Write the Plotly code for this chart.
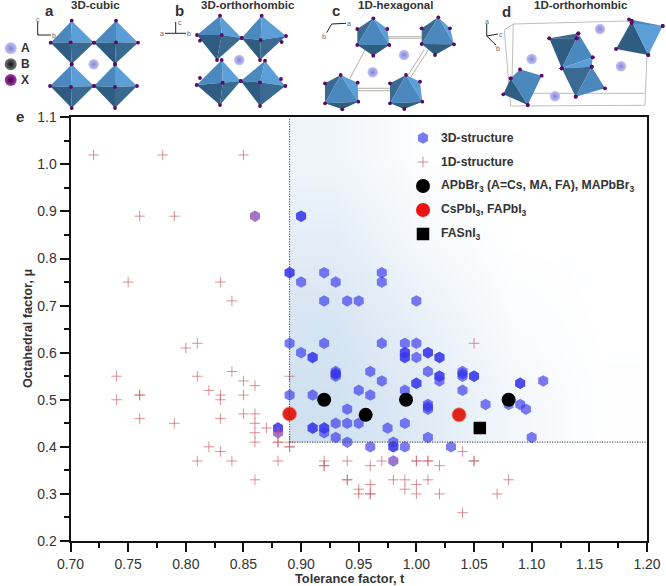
import plotly.graph_objects as go

W, H = 666, 586
TEXT = '#333333'
FONT = 'Liberation Sans'

# ---- chart values ----
# 3D-structure (tolerance factor, octahedral factor); repeated pairs overlap and look darker
t_3d = [0.90, 0.90, 0.89, 0.89, 0.92, 0.97, 0.90, 0.93, 0.97, 0.92, 0.94, 0.95, 1.00,
        0.89, 0.90, 0.91, 0.91, 0.92, 0.97, 0.99, 1.00, 0.99, 0.99, 0.99, 0.99, 1.00,
        1.01, 1.01, 1.02, 1.02, 0.93, 0.93, 0.93, 0.93, 0.96, 0.97, 1.01, 1.02, 1.02, 1.02,
        1.04, 1.04, 1.04, 1.05, 1.05, 1.00, 1.00, 0.99, 0.95, 0.96, 0.91, 0.89, 1.04,
        1.09, 1.09, 1.11, 1.01, 1.01, 1.01, 1.06, 1.08, 1.09, 1.095, 0.94,
        0.93, 0.94, 0.95, 0.91, 0.91, 0.92, 0.92, 0.92, 0.975, 0.99, 0.93, 0.94, 0.96,
        0.98, 0.98, 0.98, 0.99, 1.01, 1.03, 1.10, 0.88, 0.88]
mu_3d = [0.89, 0.89, 0.77, 0.77, 0.77, 0.77, 0.75, 0.75, 0.75, 0.71, 0.71, 0.71, 0.71,
         0.62, 0.60, 0.59, 0.59, 0.62, 0.62, 0.62, 0.62, 0.60, 0.60, 0.59, 0.59, 0.59,
         0.60, 0.60, 0.59, 0.59, 0.56, 0.55, 0.555, 0.555, 0.56, 0.54, 0.56, 0.55, 0.55, 0.54,
         0.56, 0.55, 0.555, 0.55, 0.55, 0.535, 0.535, 0.52, 0.52, 0.51, 0.51, 0.51, 0.52,
         0.535, 0.535, 0.54, 0.49, 0.48, 0.485, 0.49, 0.49, 0.49, 0.48, 0.48,
         0.45, 0.45, 0.45, 0.44, 0.44, 0.44, 0.43, 0.44, 0.44, 0.45, 0.42, 0.41, 0.40,
         0.41, 0.40, 0.40, 0.40, 0.42, 0.40, 0.42, 0.44, 0.44]
# 3D points sitting on a 1D point, drawn purple
t_both = [0.86, 0.98, 0.88]
mu_both = [0.89, 0.37, 0.43]

# 1D-structure
t_1d = [0.72, 0.78, 0.85, 0.76, 0.79, 0.86, 0.75, 0.83, 0.84,
        0.74, 0.74, 0.76, 0.76, 0.76, 0.79, 0.80, 0.81, 0.81, 0.81, 0.82, 0.82,
        0.83, 0.83, 0.83, 0.83, 0.84, 0.84, 0.85, 0.85, 0.85,
        0.86, 0.86, 0.86, 0.86, 0.86, 0.86, 0.87, 0.88, 0.88, 0.88,
        0.89, 0.89, 0.89, 0.89, 0.92, 0.92, 0.92, 0.94, 0.96, 0.97, 0.98,
        1.00, 1.00, 1.01, 1.01, 1.02, 1.04, 1.05, 1.05, 1.05,
        0.94, 0.94, 0.95, 0.95, 0.96, 0.96, 0.96, 0.98, 0.99, 0.99,
        1.00, 1.00, 1.01, 1.02, 1.07, 1.08, 1.04, 0.88]
mu_1d = [1.02, 1.02, 1.02, 0.89, 0.89, 0.89, 0.75, 0.75, 0.71,
         0.55, 0.50, 0.51, 0.51, 0.46, 0.45, 0.61, 0.62, 0.55, 0.37, 0.52, 0.40,
         0.51, 0.50, 0.46, 0.39, 0.56, 0.37, 0.54, 0.51, 0.47,
         0.53, 0.47, 0.45, 0.43, 0.41, 0.33, 0.44, 0.41, 0.41, 0.37,
         0.55, 0.41, 0.40, 0.40, 0.37, 0.36, 0.36, 0.37, 0.36, 0.37, 0.37,
         0.37, 0.37, 0.37, 0.37, 0.36, 0.39, 0.37, 0.37, 0.62,
         0.33, 0.33, 0.31, 0.30, 0.32, 0.30, 0.30, 0.33, 0.33, 0.31,
         0.32, 0.30, 0.33, 0.30, 0.30, 0.33, 0.26, 0.43]

t_br = [0.92, 0.956, 0.991, 1.08]
mu_br = [0.50, 0.468, 0.50, 0.50]
t_i = [0.89, 1.037]
mu_i = [0.47, 0.468]
t_sn = [1.055]
mu_sn = [0.44]

x_ticks = [0.70, 0.75, 0.80, 0.85, 0.90, 0.95, 1.00, 1.05, 1.10, 1.15, 1.20]
y_ticks = [0.2, 0.3, 0.4, 0.5, 0.6, 0.7, 0.8, 0.9, 1.0, 1.1]

# stable window (dotted lines and the blue wash behind the points)
t_limit = 0.89
mu_limit = 0.41
wash_t = [0.89, 0.9675, 1.045, 1.1225, 1.20]    # cell edges
wash_mu = [0.41, 0.5825, 0.755, 0.9275, 1.10]
wash_z = [[0.95, 0.62, 0.25, 0.03],
          [0.80, 0.45, 0.10, 0.00],
          [0.55, 0.20, 0.00, 0.00],
          [0.30, 0.04, 0.00, 0.00]]

legend_labels = ['3D-structure', '1D-structure',
                 'APbBr<sub>3</sub> (A=Cs, MA, FA), MAPbBr<sub>3</sub>',
                 'CsPbI<sub>3</sub>, FAPbI<sub>3</sub>', 'FASnI<sub>3</sub>']
legend_rows = [138, 162, 186, 210, 234]

# ---- crystal sketches, in pixels of the page ----
MID, LIGHT, DARK, DARKER = '#4a88bd', '#5c9fd8', '#2f5d82', '#3a6a92'
ATOM_X = '#5a0a66'

# panels a, b: (top, left, right, bottom, front)
diamonds = [
    ((71.7, 20.7), (50.7, 42.7), (94, 42.7), (71.7, 64), (70.7, 42.3)),
    ((116, 20.7), (94, 42.7), (138, 42.7), (115, 64), (116, 42.3)),
    ((71.7, 64.5), (50, 86), (94, 86), (71.7, 108), (71, 87)),
    ((115, 64.5), (94, 86), (137, 86), (115, 108), (115, 87)),
    ((220, 15.7), (197, 35), (241.7, 38), (217, 60), (221.7, 35)),
    ((261.7, 15.7), (241.7, 38), (286, 36), (260, 60), (260.7, 40)),
    ((221.7, 60), (196.7, 85), (240.7, 81), (220, 105), (222.7, 82.7)),
    ((265, 60.7), (240.7, 81), (285.3, 86), (260, 106), (260, 82.3)),
]
extra_x = [(200, 40.7), (281.7, 42), (200, 78), (281, 79)]

# panel c: (top, upper left, upper right, lower left, lower right, bottom)
hexagons = [
    ((373.3, 18.3), (357.3, 29), (387.3, 29), (357.3, 45), (389.3, 45), (373.3, 55.7)),
    ((438.3, 17.3), (421.7, 28.3), (450, 28.3), (421.7, 44), (454, 44.3), (435, 55)),
    ((340.7, 75), (325, 83.3), (357.7, 82.7), (325, 103.3), (358.3, 101.7), (342.3, 109.3)),
    ((406, 75), (390, 83.3), (420, 81.7), (390, 103.3), (422.3, 101.7), (404.3, 109)),
]
# panel d: faces as (colour, points)
faces = [
    (DARK, [(631.7, 21), (616, 49), (648.3, 55)]),
    (LIGHT, [(631.7, 21), (662.7, 26), (648.3, 55)]),
    (MID, [(629, 19.3), (662.7, 26), (631.7, 23)]),
    (DARKER, [(549.3, 38.3), (578.3, 33.3), (576.7, 38.3)]),
    (DARK, [(549.3, 38.3), (576.7, 38.3), (561.7, 68.3)]),
    (MID, [(576.7, 38.3), (578.3, 33.3), (592.7, 57.3), (561.7, 68.3)]),
    (LIGHT, [(561.7, 68.3), (592.7, 57.3), (591.7, 66.7)]),
    (DARKER, [(561.7, 68.3), (591.7, 66.7), (575.7, 96.7)]),
    (MID, [(591.7, 66.7), (605, 88.3), (575.7, 96.7)]),
    (MID, [(510.7, 78.3), (520, 69.3), (541.7, 75.7), (527.7, 105)]),
    (DARK, [(510.7, 78.3), (527.7, 105), (503.3, 94.3)]),
]
# lattice edges as (x0, y0, x1, y1)
lattice_c = [(387.3, 36.7, 421.7, 36.7), (387.3, 38.3, 421.7, 38.3),
             (357.7, 88.3, 390, 88.3), (357.7, 90.7, 390, 90.7),
             (365, 50, 350, 78.3), (428.3, 50, 410, 78.3), (424, 50, 406.7, 77.3)]
lattice_d = [(513.3, 24, 626.7, 21), (626.7, 21, 648, 25), (648, 25, 645, 105),
             (513.3, 24, 504.3, 30), (504.3, 30, 510.7, 106), (510.7, 106, 645, 105.3),
             (531.7, 93.3, 644.3, 93.3), (513.3, 24, 512, 80), (645.3, 30, 626.7, 21)]
atoms_a = [(93.7, 64.3), (239.3, 60), (404, 55), (372.7, 72.3),
           (600, 29), (531.7, 59), (621, 66.3), (555, 96.3)]
arrows = [(37.7, 35, 37.7, 22), (37.7, 35, 51, 35),
          (175.7, 33.3, 175.7, 22), (175.7, 33.3, 186, 33.3), (175.7, 33.3, 165, 33.3),
          (326.7, 32.7, 331.7, 24), (331.7, 24, 346, 23.3),
          (486.7, 36, 486.7, 24), (486.7, 36, 498, 34), (486.7, 36, 496, 45)]
arrow_labels = [(37.7, 19, 'c'), (54, 35, 'b'), (180, 22, 'c'), (189, 33.3, 'b'), (162, 33.3, 'a'),
                (324, 36, 'b'), (349, 23, 'a'), (486.7, 21, 'a'), (501, 34, 'c'), (498, 48, 'b')]

panel_letters = [(49, 10, 'a'), (179, 10, 'b'), (335.7, 10, 'c'), (506.7, 11, 'd'), (20, 116, 'e')]
panel_titles = [(95, 5, '3D-cubic'), (248, 5, '3D-orthorhombic'),
                (395, 5, '1D-hexagonal'), (580.7, 5, '1D-orthorhombic')]
key_atoms = [(10.7, 48.3, '#c4c4f4', '#8484d4', 'A'),
             (10.7, 64.3, '#777777', '#111111', 'B'),
             (10.7, 80, '#a83aa8', '#3a0040', 'X')]


def poly(points, color):
    return go.Scatter(x=[p[0] for p in points], y=[p[1] for p in points], mode='lines',
                      fill='toself', fillcolor=color, line=dict(width=0),
                      xaxis='x2', yaxis='y2', hoverinfo='skip', showlegend=False)


def segments(edges, color, width):
    xs, ys = [], []
    for x0, y0, x1, y1 in edges:
        xs += [x0, x1, None]
        ys += [y0, y1, None]
    return go.Scatter(x=xs, y=ys, mode='lines', line=dict(color=color, width=width),
                      xaxis='x2', yaxis='y2', hoverinfo='skip', showlegend=False)


def page_markers(xs, ys, **marker):
    return go.Scatter(x=xs, y=ys, mode='markers', marker=marker, xaxis='x2', yaxis='y2',
                      hoverinfo='skip', showlegend=False)


fig = go.Figure()

# main chart
fig.add_trace(go.Heatmap(x=wash_t, y=wash_mu, z=wash_z, zsmooth='best', showscale=False,
                         colorscale=[[0, '#ffffff'], [1, '#cddff0']], zmin=0, zmax=1,
                         hoverinfo='skip'))
fig.add_trace(go.Scatter(x=t_3d, y=mu_3d, mode='markers', name='3D-structure',
                         marker=dict(symbol='hexagon', size=11.5, color='rgba(55,55,235,0.66)',
                                     line=dict(width=0))))
fig.add_trace(go.Scatter(x=t_both, y=mu_both, mode='markers', name='3D and 1D',
                         marker=dict(symbol='hexagon', size=11.5, color='rgba(110,70,215,0.72)',
                                     line=dict(width=0))))
fig.add_trace(go.Scatter(x=t_1d, y=mu_1d, mode='markers', name='1D-structure',
                         marker=dict(symbol='cross-thin', size=7.5,
                                     line=dict(color='rgba(205,100,110,0.8)', width=0.9))))
fig.add_trace(go.Scatter(x=t_br, y=mu_br, mode='markers', name='APbBr3',
                         marker=dict(symbol='circle', size=14, color='#000000')))
fig.add_trace(go.Scatter(x=t_i, y=mu_i, mode='markers', name='APbI3',
                         marker=dict(symbol='circle', size=14, color='#e2231a',
                                     line=dict(color='rgba(240,130,110,0.8)', width=1))))
fig.add_trace(go.Scatter(x=t_sn, y=mu_sn, mode='markers', name='FASnI3',
                         marker=dict(symbol='square', size=12.5, color='#000000')))

# sketches
fig.add_trace(segments(lattice_c, '#b5b0aa', 1))
fig.add_trace(segments(lattice_d, '#bdbdbd', 1))

x_atoms = list(extra_x)
for top, left, right, bottom, front in diamonds:
    fig.add_trace(poly([top, left, front], MID))
    fig.add_trace(poly([top, right, front], LIGHT))
    fig.add_trace(poly([left, bottom, front], DARK))
    fig.add_trace(poly([right, bottom, front], DARKER))
    x_atoms += [top, left, right, bottom, front]
for top, ul, ur, ll, lr, bottom in hexagons:
    fig.add_trace(poly([top, ul, ll], DARKER))
    fig.add_trace(poly([top, ur, lr], LIGHT))
    fig.add_trace(poly([top, ll, lr], MID))
    fig.add_trace(poly([ll, lr, bottom], DARK))
    x_atoms += [top, ul, ur, ll, lr, bottom]
for color, points in faces:
    fig.add_trace(poly(points, color))
    x_atoms += points

fig.add_trace(page_markers([p[0] for p in x_atoms], [p[1] for p in x_atoms],
                           size=3.8, color=ATOM_X))
fig.add_trace(page_markers([p[0] for p in atoms_a], [p[1] for p in atoms_a], size=10.5,
                           color='#c4c4f4', gradient=dict(type='radial', color='#8484d4')))
fig.add_trace(segments(arrows, '#222222', 1))
for x, y, inner, outer, label in key_atoms:
    fig.add_trace(page_markers([x], [y], size=12, color=inner,
                               gradient=dict(type='radial', color=outer)))

# hand-placed legend keys
fig.add_trace(page_markers([423], [legend_rows[0]], symbol='hexagon', size=11.5,
                           color='rgba(55,55,235,0.66)'))
fig.add_trace(page_markers([423], [legend_rows[1]], symbol='cross-thin', size=7.5,
                           line=dict(color='rgba(205,100,110,0.8)', width=0.9)))
fig.add_trace(page_markers([423], [legend_rows[2]], size=14, color='#000000'))
fig.add_trace(page_markers([423], [legend_rows[3]], size=14, color='#ee1111'))
fig.add_trace(page_markers([423], [legend_rows[4]], symbol='square', size=12.5, color='#000000'))


def page_text(x, y, text, size, anchor='center', color=TEXT, bold=True, angle=0):
    fig.add_annotation(x=x, y=y, xref='x2', yref='y2', text='<b>%s</b>' % text if bold else text,
                       showarrow=False, xanchor=anchor, yanchor='middle', textangle=angle,
                       font=dict(family=FONT, size=size, color=color))


for row, label in zip(legend_rows, legend_labels):
    page_text(439, row, label, 12.2, anchor='left')
for x, y, label in panel_letters:
    page_text(x, y, label, 15)
for x, y, label in panel_titles:
    page_text(x, y, label, 11.5)
for x, y, inner, outer, label in key_atoms:
    page_text(25, y, label, 12)
for x, y, label in arrow_labels:
    page_text(x, y, label, 7, color='#666666', bold=False)
page_text(350, 578, 'Tolerance factor, t', 12.8)
page_text(28, 329, 'Octahedral factor, μ', 12.7, angle=-90)

# dotted limits of the stable window
fig.add_shape(type='line', x0=t_limit, x1=t_limit, y0=mu_limit, y1=1.1, xref='x', yref='y',
              line=dict(color='#444444', width=1.2, dash='1px,1.5px'))
fig.add_shape(type='line', x0=t_limit, x1=1.2, y0=mu_limit, y1=mu_limit, xref='x', yref='y',
              line=dict(color='#444444', width=1.2, dash='1px,1.5px'))

axis_style = dict(showgrid=False, zeroline=False, showline=True, linecolor='#111111', linewidth=2,
                  mirror=True, ticks='outside', ticklen=9, tickwidth=1.5, tickcolor='#111111',
                  automargin=False, tickfont=dict(family=FONT, size=14, color=TEXT))

fig.update_layout(
    template='none',
    width=W, height=H, margin=dict(l=0, r=0, t=0, b=0, pad=0),
    paper_bgcolor='white', plot_bgcolor='rgba(0,0,0,0)', showlegend=False,
    xaxis=dict(domain=[70.5 / W, 647 / W], range=[0.70, 1.20], tickvals=x_ticks, tickformat='.2f',
               minor=dict(dtick=0.025, ticks='outside', ticklen=4.5, tickwidth=1.5, tickcolor='#111111'),
               **axis_style),
    yaxis=dict(domain=[1 - 541 / H, 1 - 117.3 / H], range=[0.2, 1.1], tickvals=y_ticks, tickformat='.1f',
               minor=dict(dtick=0.05, ticks='outside', ticklen=4.5, tickwidth=1.5, tickcolor='#111111'),
               **axis_style),
    xaxis2=dict(domain=[0, 1], range=[0, W], visible=False, anchor='y2', automargin=False),
    yaxis2=dict(domain=[0, 1], range=[H, 0], visible=False, anchor='x2', automargin=False),
)

fig.write_html("out.html", config={'displayModeBar': False},
               post_script="document.body.style.margin='0';")
